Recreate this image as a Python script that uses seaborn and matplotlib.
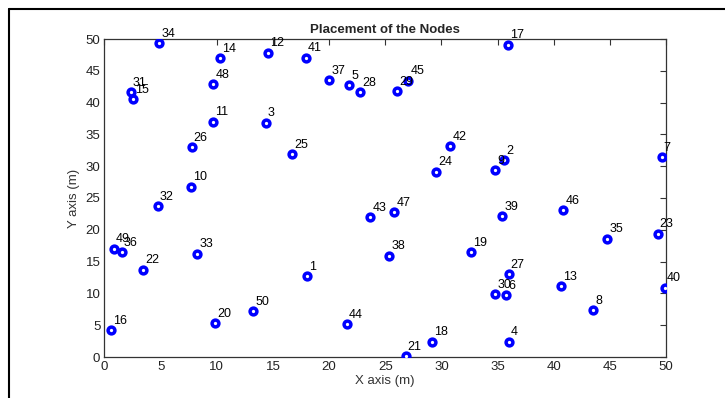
import matplotlib
matplotlib.use("Agg")
import matplotlib.pyplot as plt
import seaborn as sns
import pandas as pd
from matplotlib.lines import Line2D

node_ids = list(range(1, 51))
x_vals = [18.03, 35.57, 14.35, 35.99, 21.77, 35.75, 49.6, 43.5, 34.8, 7.7,
          9.69, 14.59, 40.68, 10.26, 2.51, 0.58, 35.9, 29.14, 32.67, 9.87,
          26.82, 3.46, 49.26, 29.5, 16.7, 7.76, 35.99, 22.75, 26.07, 34.8,
          2.33, 4.76, 8.24, 4.88, 44.77, 1.53, 19.99, 25.36, 35.4, 49.88,
          17.94, 30.8, 23.67, 21.57, 27.05, 40.86, 25.8, 9.69, 0.85, 13.25]
y_vals = [12.74, 30.9, 36.8, 2.41, 42.77, 9.7, 31.4, 7.39, 29.35, 26.8,
          37.0, 47.85, 11.1, 46.97, 40.5, 4.19, 49.1, 2.41, 16.5, 5.29,
          0.16, 13.73, 19.4, 29.1, 31.9, 32.97, 13.0, 41.6, 41.78, 9.85,
          41.6, 23.7, 16.2, 49.3, 18.6, 16.46, 43.5, 15.93, 22.1, 10.9,
          47.06, 33.1, 21.96, 5.19, 43.45, 23.1, 22.75, 42.9, 17.03, 7.23]
tick_vals = list(range(0, 51, 5))

df = pd.DataFrame({"node": node_ids, "x": x_vals, "y": y_vals})

sns.set_style("white")
plt.rcParams['font.family'] = ['Liberation Sans', 'DejaVu Sans']

fig = plt.figure(figsize=(7.25, 3.98), dpi=100)
ax = fig.add_axes([104.5 / 725, 41 / 398, 561.5 / 725, 318 / 398])

sns.scatterplot(data=df, x="x", y="y", ax=ax, marker="o", s=24,
                facecolor="white", edgecolor="#0000ff", linewidth=2.5, zorder=3)

for n, xv, yv in zip(df["node"], df["x"], df["y"]):
    ax.annotate(str(n), (xv, yv), xytext=(1.5, 2.5), textcoords="offset points",
                ha="left", va="bottom", fontsize=9, color="black", zorder=4)

ax.set_xlim(0, 50)
ax.set_ylim(0, 50)
ax.set_xticks(tick_vals)
ax.set_yticks(tick_vals)
ax.tick_params(direction="in", length=4, width=0.8, top=True, right=True,
               labelsize=9.5, colors="#333333", labelcolor="#222222", pad=3)
for sp in ax.spines.values():
    sp.set_visible(True)
    sp.set_color("#333333")
    sp.set_linewidth(0.9)

ax.set_xlabel("X axis (m)", fontsize=9.5, color="#333333", labelpad=1)
ax.set_ylabel("Y axis (m)", fontsize=9.5, color="#333333", labelpad=4)
ax.set_title("Placement of the Nodes", fontsize=9.5,
             fontweight="bold", family=["Liberation Sans Narrow", "Liberation Sans", "DejaVu Sans"], pad=4)

# outer figure frame (left and top edges)
fig.add_artist(Line2D([9 / 725, 9 / 725], [0, 1 - 9 / 398], transform=fig.transFigure,
                      color="black", linewidth=1.5))
fig.add_artist(Line2D([9 / 725, 1], [1 - 9 / 398, 1 - 9 / 398], transform=fig.transFigure,
                      color="black", linewidth=1.5))

fig.savefig("out.png", dpi=100)
